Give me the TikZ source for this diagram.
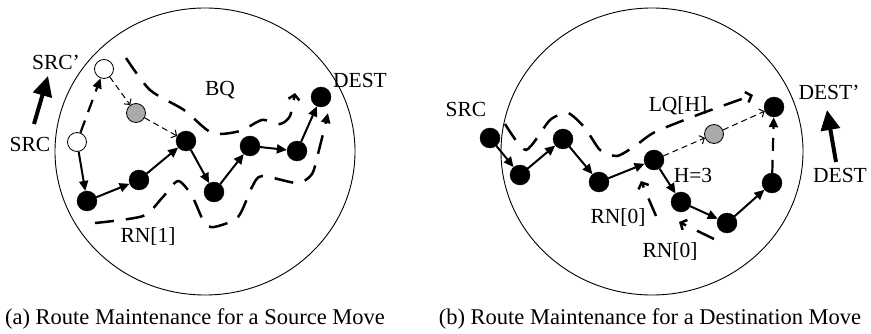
\documentclass[tikz,border=0pt]{standalone}
\usepackage{fontspec}
\setmainfont{Liberation Serif}
\usetikzlibrary{arrows.meta}
\definecolor{nodegray}{RGB}{170,170,170}
\begin{document}
\begin{tikzpicture}[x=1pt,y=-1pt,
 bn/.style={circle,fill=black,draw=black,inner sep=0pt,minimum size=20pt},
 wn/.style={circle,fill=white,draw=black,line width=0.8pt,inner sep=0pt,minimum size=19pt},
 gn/.style={circle,fill=nodegray,draw=black,line width=0.8pt,inner sep=0pt,minimum size=19pt},
 hop/.style={line width=2pt,-{Triangle[length=10pt,width=9pt]}},
 hopdash/.style={line width=2.2pt,dash pattern=on 13pt off 9pt,-{Triangle[length=10pt,width=9pt]}},
 lbl/.style={font=\fontsize{21.5}{24}\selectfont,inner sep=0pt,anchor=base},
 capt/.style={font=\fontsize{22.5}{26}\selectfont,inner sep=0pt,anchor=base},
 thindash/.style={line width=1pt,dash pattern=on 6pt off 4pt,-{Straight Barb[length=4pt,width=9pt]}},
 longdash/.style={line width=2.5pt,dash pattern=on 19pt off 12pt},
 openhead/.style={-{Straight Barb[length=5pt,width=11pt]}},
 filledhead/.style={-{Triangle[length=10pt,width=9pt]}},
 movearrow/.style={line width=4pt,-{Triangle[length=20pt,width=19pt]}},
 region/.style={line width=0.9pt}]
\useasboundingbox (0,0) rectangle (871,334);

% ---------------- (a) ----------------
\draw[region] (205,151.5) ellipse [x radius=150pt, y radius=143.5pt];

\node[wn] (s)  at (77,142) {};
\node[wn] (sp) at (104,69) {};
\node[gn] (g)  at (136,113) {};
\node[bn] (a1) at (87,201) {};
\node[bn] (a2) at (139,180) {};
\node[bn] (a3) at (186,141) {};
\node[bn] (a4) at (214,192) {};
\node[bn] (a5) at (250,146) {};
\node[bn] (a6) at (297,151) {};
\node[bn] (a7) at (321,97) {};

\draw[hop] (s) -- (a1);
\draw[hop] (a1) -- (a2);
\draw[hop] (a2) -- (a3);
\draw[hop] (a3) -- (a4);
\draw[hop] (a4) -- (a5);
\draw[hop] (a5) -- (a6);
\draw[hop] (a6) -- (a7);
\draw[hopdash] (s) -- (sp);
\draw[thindash] (sp) -- (g);
\draw[thindash] (g) -- (a3);

% BQ dashed curve
\draw[longdash,openhead] plot[smooth,tension=0.45] coordinates
 {(126,58) (150,90) (184,110) (212,133) (240,131) (262,120) (280,124) (290,116) (295,93)};
% RN[1] dashed curve
\draw[longdash,filledhead] plot[smooth,tension=0.45] coordinates
 {(95,223) (143,216) (162,198) (178,181) (192,196) (204,222) (214,227) (238,217) (252,187) (262,176) (297,183) (312,174) (319,150) (328,113)};

\coordinate (ma0) at (34,124);
\coordinate (ma1) at (48,76);
\draw[movearrow] (ma0) -- (ma1);

\node[lbl] (lsp)  at (56,70) {SRC'};
\node[lbl] (ls)   at (30,152) {SRC};
\node[lbl] (lbq)  at (220,96) {BQ};
\node[lbl] (ld)   at (360,88) {DEST};
\node[lbl] (lrn1) at (148,243) {RN[1]};

\node[capt] (capa) at (195,324) {(a) Route Maintenance for a Source Move};

% ---------------- (b) ----------------
\draw[region] (652,151.5) ellipse [x radius=151pt, y radius=143.5pt];

\node[bn] (b1) at (490,138) {};
\node[bn] (b2) at (520,175) {};
\node[bn] (b3) at (563,139) {};
\node[bn] (b4) at (599,182) {};
\node[bn] (b5) at (654,160) {};
\node[bn] (b6) at (681,202) {};
\node[bn] (b7) at (727,223) {};
\node[bn] (b8) at (772,183) {};
\node[bn] (b9) at (774,107) {};
\node[gn] (g2) at (714,134) {};

\draw[hop] (b1) -- (b2);
\draw[hop] (b2) -- (b3);
\draw[hop] (b3) -- (b4);
\draw[hop] (b4) -- (b5);
\draw[hop] (b5) -- (b6);
\draw[hop] (b6) -- (b7);
\draw[hop] (b7) -- (b8);
\draw[hopdash] (b8) -- (b9);
\draw[thindash] (b5) -- (g2);
\draw[thindash] (g2) -- (b9);

% LQ[H] dashed curve
\draw[longdash,openhead] plot[smooth,tension=0.4] coordinates
 {(505,124) (526,150) (550,120) (568,113) (585,128) (600,150) (617,156) (635,146) (655,132) (700,114) (753,95)};
% RN[0] dashed arrows
\draw[longdash,openhead] (656,216) -- (641,181);
\draw[longdash,openhead] (714,239) -- (679,222);

\coordinate (mb0) at (836,162);
\coordinate (mb1) at (827,110);
\draw[movearrow] (mb0) -- (mb1);

\node[lbl] (ls2)  at (466,117) {SRC};
\node[lbl] (ldp)  at (829,100) {DEST'};
\node[lbl] (ld2)  at (840,183) {DEST};
\node[lbl] (llq)  at (678,112) {LQ[H]};
\node[lbl] (lh)   at (693,183) {H=3};
\node[lbl] (lrn0) at (618,224) {RN[0]};
\node[lbl] (lrn0b) at (670,258) {RN[0]};

\node[capt] (capb) at (650,324) {(b) Route Maintenance for a Destination Move};
\end{tikzpicture}
\end{document}
